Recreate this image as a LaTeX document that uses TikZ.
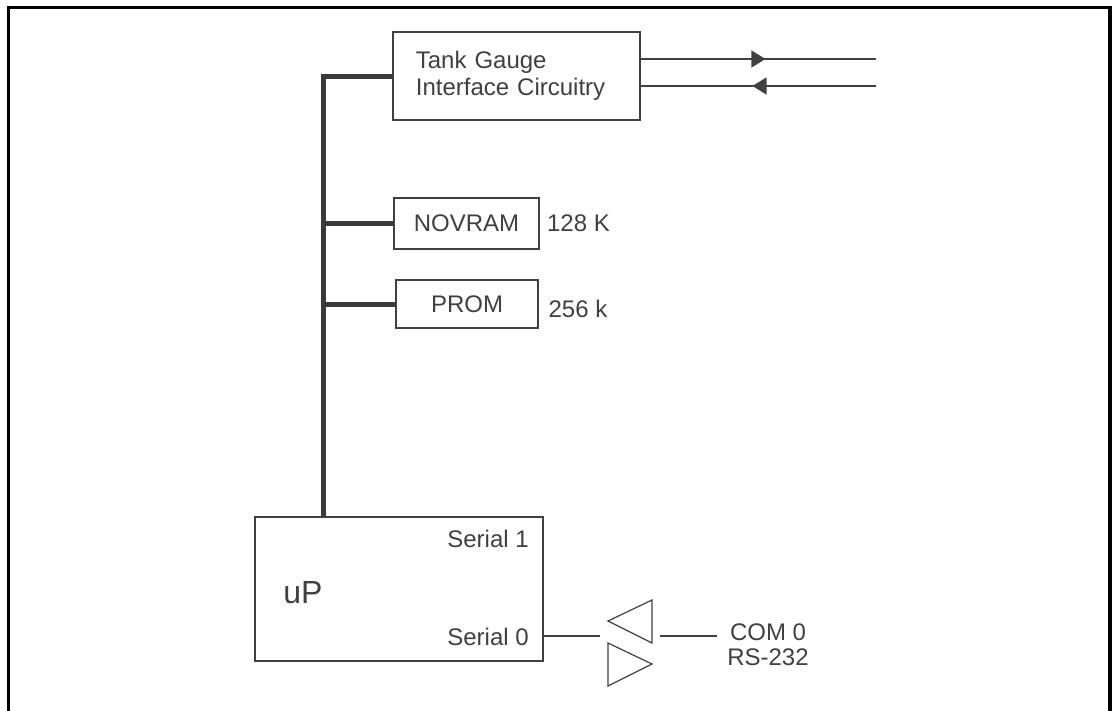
\documentclass[tikz,border=0pt]{standalone}
\usepackage{fontspec}
\setmainfont{Liberation Sans}
\usetikzlibrary{arrows.meta,decorations.markings}

\definecolor{ink}{HTML}{404040}
\definecolor{busgray}{HTML}{3A3A3A}

\begin{document}
\begin{tikzpicture}
  [
    x=0.75pt,y=-0.75pt,
    every node/.style={
      text=ink,
      font=\fontsize{18}{20}\selectfont
    },
    unit/.style={
      draw=ink,
      line width=1.1pt,
      inner sep=0pt
    },
    bus/.style={
      draw=busgray,
      line width=3.75pt
    },
    wire/.style={
      draw=ink,
      line width=0.9pt
    },
    flow/.style={
      wire,
      postaction={decorate},
      decoration={markings,
        mark=at position #1 with {\arrow{Triangle[length=10.5pt,width=12.75pt]}}}
    }
  ]

  \useasboundingbox (0,0) rectangle (1119,710);
  \draw [line width=2.5pt] (8.5,712) -- (8.5,7.5) -- (1110,7.5) -- (1110,712);

  % units on the bus
  \node [unit,minimum width=185.25pt,minimum height=66pt,text width=151pt,align=left] (tank)
    at (516.5,76) {Tank Gauge\\Interface Circuitry};
  \node [unit,minimum width=108.75pt,minimum height=38.25pt] (nov) at (466.5,223.5) {NOVRAM};
  \node [unit,minimum width=106.5pt,minimum height=36pt] (prom) at (467,304) {PROM};
  \node [unit,minimum width=216pt,minimum height=108pt] (up) at (399,589) {};

  \node (novsize) at (578.5,223) {128 K};
  \node (promsize) at (578,309) {256 k};

  \node [font=\fontsize{24}{28}\selectfont] (uplabel) at (303,593) {uP};
  \node [anchor=east,inner sep=0pt] (ser1) at (529,539) {Serial 1};
  \node [anchor=east,inner sep=0pt] (ser0) at (529,637) {Serial 0};

  % bus
  \coordinate (bustop) at (323.5,76);
  \draw [bus] (tank.west |- bustop) -- (bustop) -- (bustop |- up.north);
  \foreach \u in {nov,prom} {
      \draw [bus] (bustop |- \u.west) -- (\u.west);
  }

  % tank gauge lines
  \coordinate (outend) at (876,59);
  \coordinate (inend) at (876,86);
  \draw [flow=0.53] (tank.east |- outend) -- (outend);
  \draw [flow=0.525] (inend) -- (tank.east |- inend);

  % rs-232 drivers
  \coordinate (rxin) at (600,636);
  \coordinate (txout) at (660,636);
  \draw [wire] (608,621) -- (652,600) -- (652,643) -- cycle;
  \draw [wire] (608,643) -- (652,664) -- (608,686) -- cycle;

  \node [align=center,font=\fontsize{18}{19}\selectfont] (com) at (768,645) {COM 0\\RS-232};
  \coordinate (comin) at (717,636);

  \draw [wire] (up.east |- rxin) -- (rxin);
  \draw [wire] (txout) -- (comin);

  \end{tikzpicture}
\end{document}
